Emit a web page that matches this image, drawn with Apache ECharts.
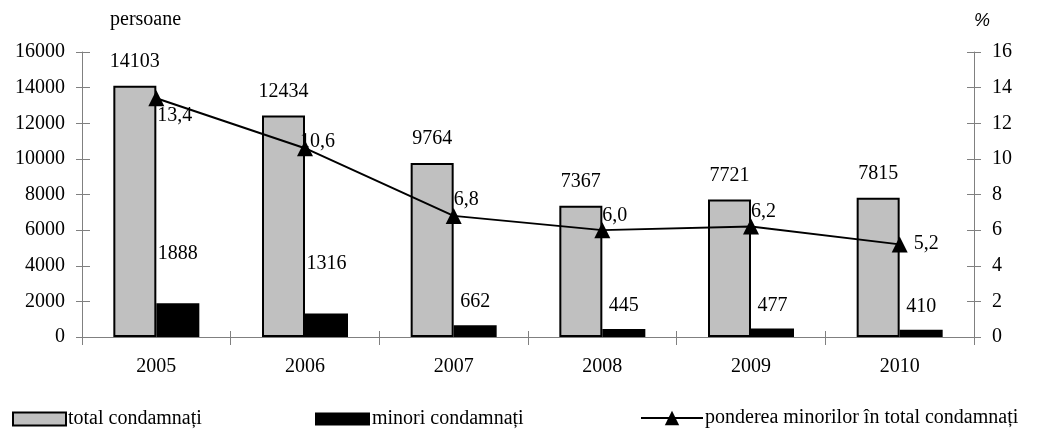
<!DOCTYPE html>
<html>
<head>
<meta charset="utf-8">
<script src="https://cdn.jsdelivr.net/npm/echarts@6/dist/echarts.min.js"></script>
<style>
    html, body { margin: 0; padding: 0; background: #fff; }
    #chart { width: 1037px; height: 430px; }
</style>
</head>
<body>
<div id="chart"></div>
<script>
    // date
    var ani = ['2005', '2006', '2007', '2008', '2009', '2010']
    var totalCondamnati = [14103, 12434, 9764, 7367, 7721, 7815]
    var minoriCondamnati = [1888, 1316, 662, 445, 477, 410]
    var ponderea = [13.4, 10.6, 6.8, 6.0, 6.2, 5.2]

    var serif = 'Liberation Serif'
    var axisGray = '#808080'

    // etichetele liniei sunt puse de mana in original
    var linePos = [[9, 15], [3, -8], [8, -18], [8, -16], [8, -17], [22, -3]]
    var lineData = ponderea.map(function (v, i) {
        return { value: v, label: { position: linePos[i] } }
    })
    var minoriData = minoriCondamnati.map(function (v, i) {
        return i < 2 ? { value: v, label: { distance: 40 } } : v
    })

    var plain = function (v) { return String(v) }

    var myChart = echarts.init(document.getElementById('chart'))

    myChart.setOption({
        animation: false,
        textStyle: { fontFamily: serif, color: '#000' },
        grid: { left: 82, right: 63, top: 52, bottom: 93 },
        legend: [
            {
                data: [{ name: 'total condamnați', icon: 'rect' }],
                left: 12, top: 409, padding: 0,
                itemWidth: 53, itemHeight: 13,
                textStyle: { fontFamily: serif, fontSize: 20, color: '#000', padding: [0, 0, 0, -3] }
            },
            {
                data: [{ name: 'minori condamnați', icon: 'rect' }],
                left: 315, top: 409, padding: 0,
                itemWidth: 55, itemHeight: 13,
                textStyle: { fontFamily: serif, fontSize: 20, color: '#000', padding: [0, 0, 0, -3] }
            },
            {
                data: ['ponderea minorilor în total condamnați'],
                left: 640, top: 408, padding: 0,
                itemWidth: 62, itemHeight: 18,
                textStyle: { fontFamily: serif, fontSize: 20, color: '#000', padding: [0, 0, 0, -3] }
            }
        ],
        xAxis: [
            {
                type: 'category',
                data: ani,
                axisLine: { lineStyle: { color: axisGray, width: 1 } },
                axisTick: { show: true, length: 8, lineStyle: { color: axisGray } },
                axisLabel: { fontFamily: serif, fontSize: 20, color: '#000', margin: 20 }
            },
            {
                type: 'category',
                data: ani,
                position: 'bottom',
                axisLine: { show: false },
                axisTick: { show: true, inside: true, length: 6, lineStyle: { color: axisGray } },
                axisLabel: { show: false }
            }
        ],
        yAxis: [
            {
                type: 'value',
                min: 0, max: 16000, interval: 2000,
                name: 'persoane',
                nameLocation: 'end',
                nameGap: 22,
                nameTextStyle: { fontFamily: serif, fontSize: 20, color: '#000', align: 'left', padding: [0, 0, 0, 28] },
                axisLine: { show: true, lineStyle: { color: axisGray } },
                axisTick: { show: true, length: 6, lineStyle: { color: axisGray } },
                axisLabel: { fontFamily: serif, fontSize: 20, color: '#000', margin: 17, formatter: plain },
                splitLine: { show: false }
            },
            {
                type: 'value',
                position: 'right',
                min: 0, max: 16, interval: 2,
                name: '%',
                nameLocation: 'end',
                nameGap: 22,
                nameTextStyle: { fontFamily: 'Liberation Sans', fontStyle: 'italic', fontSize: 18, color: '#000', align: 'left' },
                axisLine: { show: true, lineStyle: { color: axisGray } },
                axisTick: { show: true, length: 7, lineStyle: { color: axisGray } },
                axisLabel: { fontFamily: serif, fontSize: 20, color: '#000', margin: 18, formatter: plain },
                splitLine: { show: false }
            },
            {
                type: 'value',
                position: 'left',
                min: 0, max: 16000, interval: 2000,
                axisLine: { show: false },
                axisTick: { show: true, inside: true, length: 8, lineStyle: { color: axisGray } },
                axisLabel: { show: false },
                splitLine: { show: false }
            },
            {
                type: 'value',
                position: 'right',
                min: 0, max: 16, interval: 2,
                axisLine: { show: false },
                axisTick: { show: true, inside: true, length: 7, lineStyle: { color: axisGray } },
                axisLabel: { show: false },
                splitLine: { show: false }
            }
        ],
        series: [
            {
                name: 'total condamnați',
                type: 'bar',
                yAxisIndex: 0,
                barWidth: 43,
                barGap: '0%',
                itemStyle: { color: '#c0c0c0', borderColor: '#000', borderWidth: 2 },
                label: { show: true, position: 'top', distance: 14, fontFamily: serif, fontSize: 20, color: '#000' },
                data: totalCondamnati
            },
            {
                name: 'minori condamnați',
                type: 'bar',
                yAxisIndex: 0,
                barWidth: 43,
                barGap: '0%',
                itemStyle: { color: '#000' },
                label: { show: true, position: 'top', distance: 13, fontFamily: serif, fontSize: 20, color: '#000' },
                data: minoriData
            },
            {
                name: 'ponderea minorilor în total condamnați',
                type: 'line',
                yAxisIndex: 1,
                symbol: 'triangle',
                symbolSize: 16,
                z: 5,
                lineStyle: { color: '#000', width: 2 },
                itemStyle: { color: '#000' },
                label: {
                    show: true,
                    fontFamily: serif, fontSize: 20, color: '#000',
                    formatter: function (p) { return p.value.toFixed(1).replace('.', ',') }
                },
                data: lineData
            }
        ]
    })
</script>
</body>
</html>
